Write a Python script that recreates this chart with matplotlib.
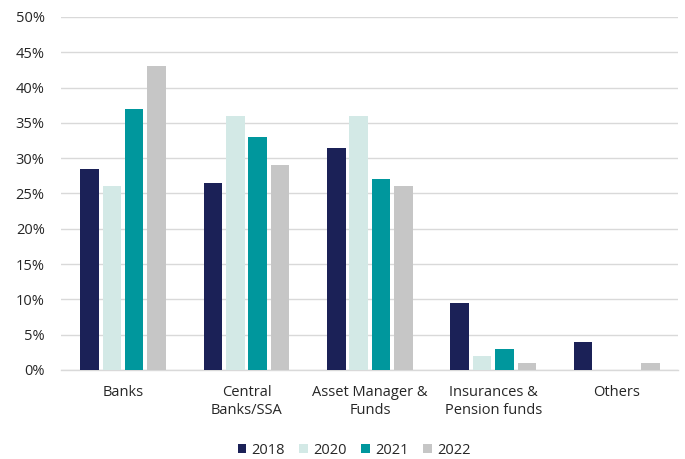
import matplotlib
matplotlib.use("Agg")
import matplotlib.pyplot as plt
import numpy as np
from matplotlib.ticker import FuncFormatter

categories = ["Banks", "Central\nBanks/SSA", "Asset Manager &\nFunds", "Insurances &\nPension funds", "Others"]
years = ["2018", "2020", "2021", "2022"]
v2018 = [28.5, 26.5, 31.5, 9.5, 4.0]
v2020 = [26.0, 36.0, 36.0, 2.0, 0.0]
v2021 = [37.0, 33.0, 27.0, 3.0, 0.0]
v2022 = [43.0, 29.0, 26.0, 1.0, 1.0]
series = [v2018, v2020, v2021, v2022]
colors = ["#1b2157", "#d3e9e6", "#00979d", "#c6c6c6"]

plt.rcParams['font.family'] = ['Open Sans', 'DejaVu Sans']

fig = plt.figure(figsize=(6.85, 4.59), dpi=100)
ax = fig.add_axes([0.0895, 0.194, 0.901, 0.769])

x = np.arange(len(categories))
pitch = 0.1817
width = 0.15
for i, (vals, c, y) in enumerate(zip(series, colors, years)):
    ax.bar(x + (i - 1.5) * pitch, vals, width=width, color=c, label=y, zorder=3)

ax.set_xlim(-0.5, len(categories) - 0.5)
ax.set_ylim(0, 50)
ax.set_yticks(np.arange(0, 51, 5))
ax.yaxis.set_major_formatter(FuncFormatter(lambda v, p: f"{int(v)}%"))
ax.grid(axis='y', color='#d9d9d9', linewidth=1, zorder=0)
for s in ['top', 'right', 'left']:
    ax.spines[s].set_visible(False)
ax.spines['bottom'].set_color('#d9d9d9')
ax.spines['bottom'].set_linewidth(1)
ax.tick_params(axis='both', length=0, labelsize=10.5, colors='#262626')
ax.tick_params(axis='x', pad=11)
ax.tick_params(axis='y', pad=12)
ax.set_xticks(x)
ax.set_xticklabels(categories, linespacing=1.25)

fig.legend(loc='center', bbox_to_anchor=(0.517, 0.019), ncol=4, frameon=False,
           fontsize=10.5, handlelength=0.6, handleheight=0.6, handletextpad=0.35,
           columnspacing=1.0, labelcolor='#262626')

fig.savefig("out.png", dpi=100)
